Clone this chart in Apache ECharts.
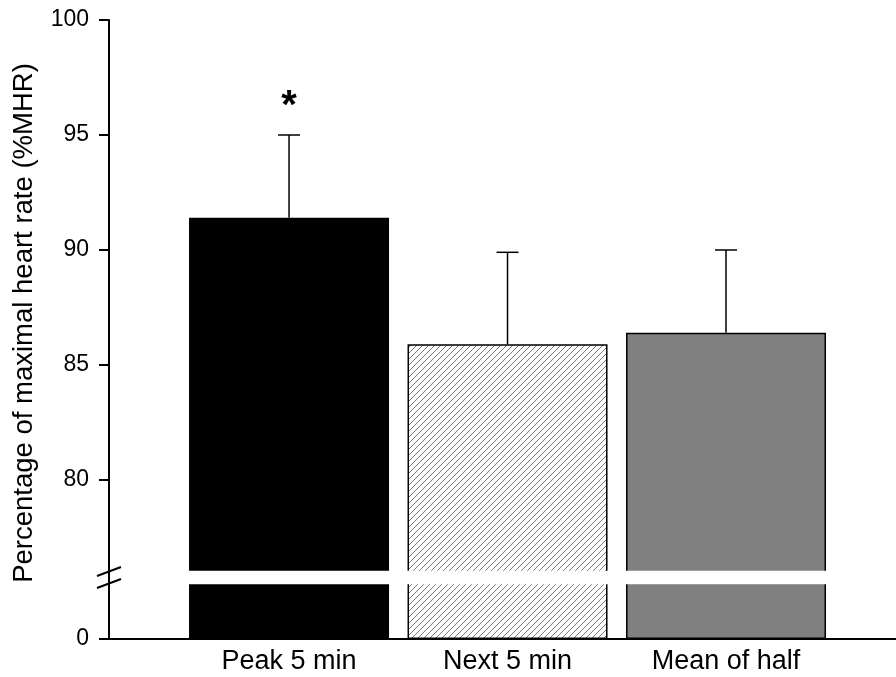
<!DOCTYPE html>
<html>
<head>
<meta charset="utf-8">
<script src="https://cdn.jsdelivr.net/npm/echarts@6/dist/echarts.min.js"></script>
<style>
  html, body { margin: 0; padding: 0; background: #fff; }
  #chart { width: 896px; height: 677px; }
</style>
</head>
<body>
<div id="chart"></div>
<script>
// data
const categories = ['Peak 5 min', 'Next 5 min', 'Mean of half']
const means = [91.4, 85.9, 86.4]
const sds = [3.6, 4.0, 3.6]
const marks = ['*', '', '']
const yTicks = [80, 85, 90, 95, 100]
const yTicksLow = [0]

const FONT = '"Liberation Sans", Arial, sans-serif'

// hatch for the middle bar
function hatch() {
  const c = document.createElement('canvas')
  c.width = 6
  c.height = 6
  const ctx = c.getContext('2d')
  ctx.fillStyle = '#fff'
  ctx.fillRect(0, 0, 6, 6)
  ctx.strokeStyle = '#7a7a7a'
  ctx.lineWidth = 1
  ctx.beginPath()
  ctx.moveTo(-1, 7); ctx.lineTo(7, -1)
  ctx.moveTo(-1, 1); ctx.lineTo(1, -1)
  ctx.moveTo(5, 7); ctx.lineTo(7, 5)
  ctx.stroke()
  return c
}
const fills = ['#000000', { image: hatch(), repeat: 'repeat' }, '#808080']

// x is a value axis so the three bars sit where they do in the figure
const xMin = -0.824
const xMax = 2.778

const barData = means.map((v, i) => ({
  value: [i, v],
  itemStyle: { color: fills[i], borderColor: '#000', borderWidth: 1.5 },
}))

const axisLine = { show: true, onZero: false, lineStyle: { color: '#000', width: 2 } }

const chart = echarts.init(document.getElementById('chart'))

chart.setOption({
  animation: false,
  textStyle: { fontFamily: FONT },
  grid: [
    { left: 109, right: 0, top: 20, height: 552 },
    { left: 109, right: 0, top: 583, height: 56 },
  ],
  xAxis: [
    { gridIndex: 0, type: 'value', min: xMin, max: xMax, show: false },
    {
      gridIndex: 1,
      type: 'value',
      min: xMin,
      max: xMax,
      splitLine: { show: false },
      axisLine: axisLine,
      axisTick: { show: false },
      axisLabel: {
        customValues: [0, 1, 2],
        formatter: v => categories[Math.round(v)],
        color: '#000',
        fontSize: 27,
        fontFamily: FONT,
        margin: 9,
      },
    },
  ],
  yAxis: [
    {
      gridIndex: 0,
      type: 'value',
      min: 76,
      max: 100,
      splitLine: { show: false },
      axisLine: axisLine,
      axisTick: { show: true, customValues: yTicks, length: 10, lineStyle: { color: '#000', width: 2 } },
      axisLabel: { customValues: yTicks, color: '#000', fontSize: 23, fontFamily: FONT, margin: 20 },
    },
    {
      gridIndex: 1,
      type: 'value',
      min: 0,
      max: 1,
      splitLine: { show: false },
      axisLine: axisLine,
      axisTick: { show: true, customValues: yTicksLow, length: 10, lineStyle: { color: '#000', width: 2 } },
      axisLabel: { customValues: yTicksLow, color: '#000', fontSize: 23, fontFamily: FONT, margin: 20 },
    },
  ],
  series: [
    {
      type: 'bar',
      xAxisIndex: 0,
      yAxisIndex: 0,
      barWidth: 200,
      clip: true,
      data: barData,
    },
    {
      type: 'bar',
      xAxisIndex: 1,
      yAxisIndex: 1,
      barWidth: 200,
      clip: true,
      data: barData,
    },
    {
      type: 'custom',
      xAxisIndex: 0,
      yAxisIndex: 0,
      z: 5,
      data: means.map((v, i) => [i, v, sds[i]]),
      renderItem(params, api) {
        const x = api.value(0)
        const m = api.value(1)
        const e = api.value(2)
        const p0 = api.coord([x, m])
        const p1 = api.coord([x, m + e])
        const st = { stroke: '#000', lineWidth: 1.5 }
        const children = [
          { type: 'line', shape: { x1: p0[0], y1: p0[1], x2: p1[0], y2: p1[1] }, style: st },
          { type: 'line', shape: { x1: p1[0] - 11, y1: p1[1], x2: p1[0] + 11, y2: p1[1] }, style: st },
        ]
        const mark = marks[params.dataIndex]
        if (mark) {
          children.push({
            type: 'text',
            style: {
              text: mark,
              x: p1[0],
              y: p1[1] - 28,
              align: 'center',
              verticalAlign: 'middle',
              font: 'bold 40px ' + FONT,
              fill: '#000',
            },
          })
        }
        return { type: 'group', children }
      },
    },
  ],
  graphic: [
    {
      type: 'text',
      x: 24,
      y: 323,
      rotation: Math.PI / 2,
      style: {
        text: 'Percentage of maximal heart rate (%MHR)',
        font: '27.5px ' + FONT,
        align: 'center',
        verticalAlign: 'middle',
        fill: '#000',
      },
    },
    // axis break: white gap across the bars, then the two slashes
    { type: 'rect', z: 100, shape: { x: 111, y: 570.8, width: 785, height: 13.4 }, style: { fill: '#fff' } },
    { type: 'line', z: 101, shape: { x1: 109, y1: 570, x2: 109, y2: 585 }, style: { stroke: '#000', lineWidth: 2 } },
    { type: 'line', z: 101, shape: { x1: 97, y1: 576, x2: 121, y2: 567 }, style: { stroke: '#000', lineWidth: 2 } },
    { type: 'line', z: 101, shape: { x1: 97, y1: 588, x2: 121, y2: 579 }, style: { stroke: '#000', lineWidth: 2 } },
  ],
})
</script>
</body>
</html>
